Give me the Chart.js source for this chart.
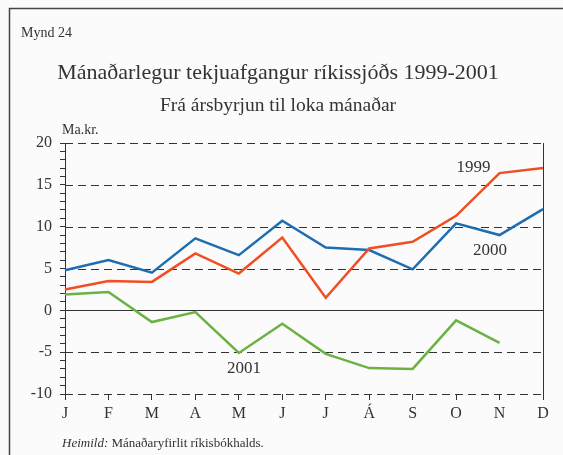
<!DOCTYPE html>
<html>
<head>
<meta charset="utf-8">
<script src="https://cdn.jsdelivr.net/npm/chart.js@4/dist/chart.umd.min.js"></script>
<style>
  html, body { margin: 0; padding: 0; background: #fbfbfb; }
  #wrap { width: 563px; height: 455px; }
</style>
</head>
<body>
<div id="wrap"><canvas id="chart" width="563" height="455"></canvas></div>
<script>
// Data (Ma.kr., cumulative from start of year)
const months = ['J', 'F', 'M', 'A', 'M', 'J', 'J', 'Á', 'S', 'O', 'N', 'D'];
const values1999 = [2.5, 3.5, 3.4, 6.8, 4.4, 8.7, 1.5, 7.4, 8.2, 11.3, 16.4, 17.0];
const values2000 = [4.8, 6.0, 4.5, 8.6, 6.6, 10.7, 7.5, 7.2, 4.9, 10.4, 9.0, 12.1];
const values2001 = [1.9, 2.2, -1.4, -0.2, -5.1, -1.6, -5.2, -6.9, -7.0, -1.2, -3.9, null];
const yTicks = [-10, -5, 0, 5, 10, 15, 20];

const serif = '"Liberation Serif", "DejaVu Serif", serif';
const ink = '#333';

// frame, titles, dashed grid and series labels
const decor = {
  id: 'decor',
  beforeDraw(chart) {
    const ctx = chart.ctx;
    ctx.save();
    ctx.fillStyle = '#fbfbfb';
    ctx.fillRect(0, 0, chart.width, chart.height);
    ctx.strokeStyle = '#444';
    ctx.lineWidth = 1.5;
    ctx.beginPath();
    ctx.moveTo(9.5, chart.height);
    ctx.lineTo(9.5, 8.5);
    ctx.lineTo(chart.width, 8.5);
    ctx.stroke();

    ctx.fillStyle = ink;
    ctx.textBaseline = 'alphabetic';
    ctx.textAlign = 'left';
    ctx.font = '14px ' + serif;
    ctx.fillText('Mynd 24', 21, 37);
    ctx.textAlign = 'center';
    ctx.font = '22px ' + serif;
    ctx.fillText('Mánaðarlegur tekjuafgangur ríkissjóðs 1999-2001', 278, 79);
    ctx.font = '19.5px ' + serif;
    ctx.fillText('Frá ársbyrjun til loka mánaðar', 278, 111);
    ctx.textAlign = 'left';
    ctx.font = '14px ' + serif;
    ctx.fillText('Ma.kr.', 62, 134);
    ctx.font = 'italic 13px ' + serif;
    ctx.fillText('Heimild:', 62, 447);
    const w = ctx.measureText('Heimild: ').width;
    ctx.font = '13px ' + serif;
    ctx.fillText('Mánaðaryfirlit ríkisbókhalds.', 62 + w, 447);
    ctx.restore();
  },
  beforeDatasetsDraw(chart) {
    const ctx = chart.ctx;
    const a = chart.chartArea;
    const y = chart.scales.y;
    ctx.save();
    ctx.strokeStyle = ink;
    ctx.lineWidth = 1;
    yTicks.forEach(v => {
      const py = Math.round(y.getPixelForValue(v)) + 0.5;
      ctx.setLineDash(v === 0 ? [] : [8, 5]);
      ctx.beginPath();
      ctx.moveTo(a.left, py);
      ctx.lineTo(a.right, py);
      ctx.stroke();
    });
    ctx.setLineDash([]);
    ctx.beginPath();
    ctx.moveTo(Math.round(a.right) + 0.5, a.top);
    ctx.lineTo(Math.round(a.right) + 0.5, a.bottom);
    ctx.stroke();
    ctx.restore();
  },
  afterDatasetsDraw(chart) {
    const ctx = chart.ctx;
    const x = chart.scales.x;
    const y = chart.scales.y;
    ctx.save();
    ctx.fillStyle = ink;
    ctx.font = '17px ' + serif;
    ctx.textAlign = 'center';
    ctx.fillText('1999', x.getPixelForValue(9.4), y.getPixelForValue(16.5));
    ctx.fillText('2000', x.getPixelForValue(9.78), y.getPixelForValue(6.6));
    ctx.fillText('2001', x.getPixelForValue(4.12), y.getPixelForValue(-7.5));
    ctx.restore();
  }
};

new Chart(document.getElementById('chart'), {
  type: 'line',
  data: {
    labels: months,
    datasets: [
      { label: '1999', data: values1999, borderColor: '#f04e23' },
      { label: '2000', data: values2000, borderColor: '#1d6db3' },
      { label: '2001', data: values2001, borderColor: '#6bb244' }
    ]
  },
  options: {
    responsive: false,
    animation: false,
    layout: { padding: { left: 10, right: 20, top: 143, bottom: 31 } },
    elements: {
      line: { borderWidth: 2.5, tension: 0, borderJoinStyle: 'miter' },
      point: { radius: 0 }
    },
    plugins: { legend: { display: false }, tooltip: { enabled: false }, title: { display: false } },
    scales: {
      x: {
        offset: false,
        afterFit(s) { s.height = 30; },
        grid: { drawOnChartArea: false, drawTicks: true, tickLength: 6, tickColor: ink, offset: false },
        border: { display: false },
        ticks: { color: ink, font: { family: serif, size: 16 }, padding: 4, maxRotation: 0, autoSkip: false }
      },
      y: {
        min: -10,
        max: 20,
        afterFit(s) { s.width = 55; },
        grid: { drawOnChartArea: false, drawTicks: true, tickLength: 5, tickColor: ink },
        border: { display: true, color: ink, width: 1 },
        ticks: {
          stepSize: 1,
          autoSkip: false,
          color: ink,
          padding: 8,
          font: { family: serif, size: 16 },
          callback: v => (v % 5 === 0 ? String(v) : '')
        }
      }
    }
  },
  plugins: [decor]
});
</script>
</body>
</html>
